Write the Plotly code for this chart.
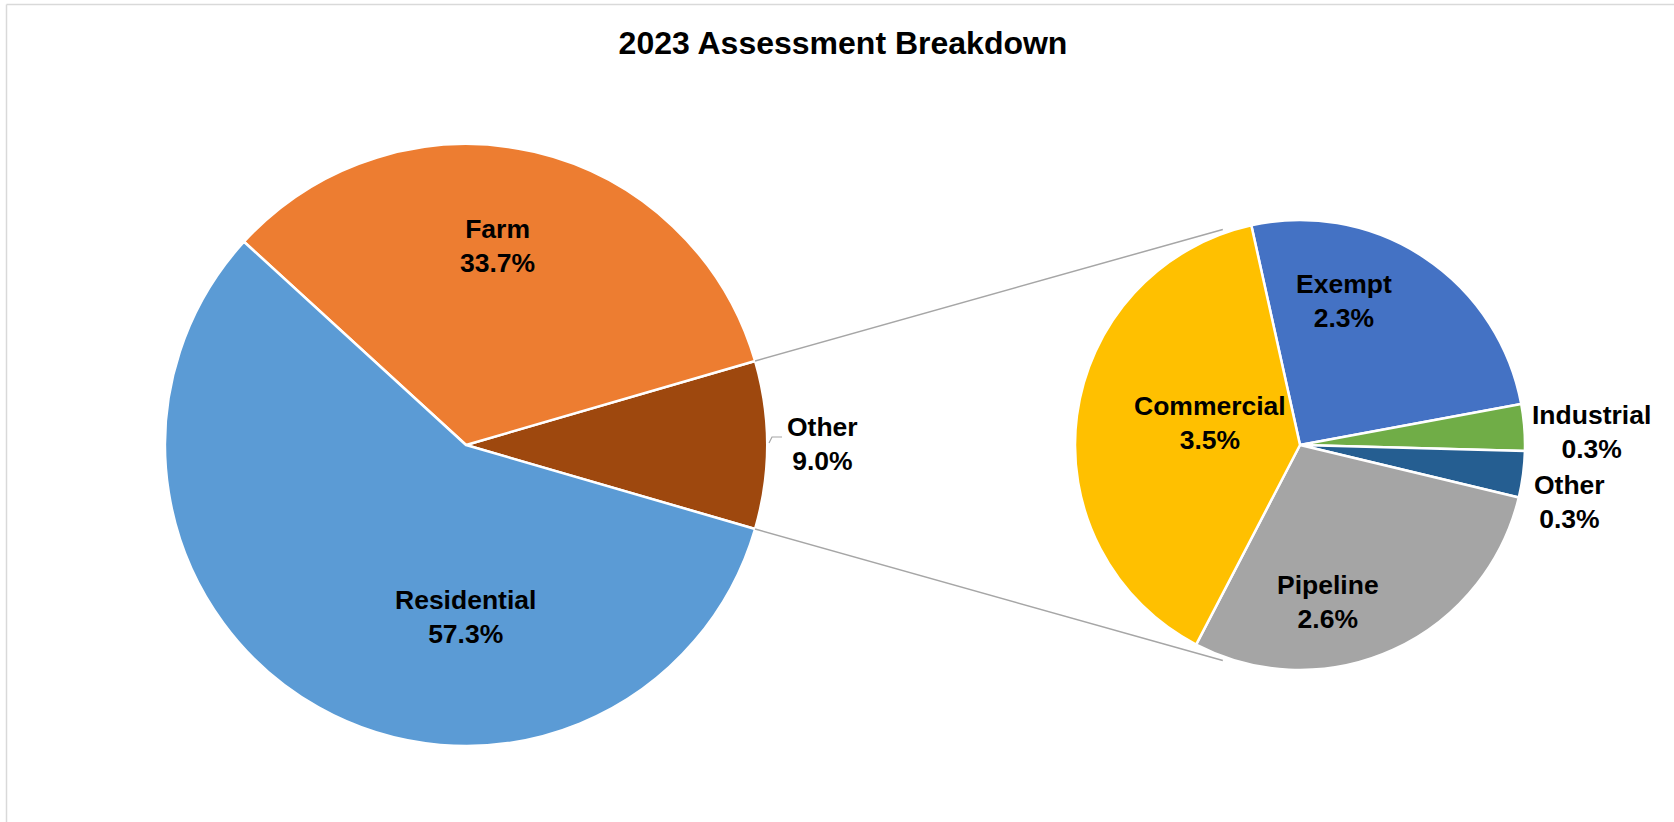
import math
import plotly.graph_objects as go

# ---------------- data ----------------
main_labels = ["Other", "Farm", "Residential"]
main_values = [9.0, 33.7, 57.3]
main_colors = ["#9E480E", "#ED7D31", "#5B9BD5"]

sub_labels = ["Exempt", "Industrial", "Other", "Pipeline", "Commercial"]
sub_values = [2.3, 0.3, 0.3, 2.6, 3.5]
sub_colors = ["#4472C4", "#70AD47", "#255E91", "#A5A5A5", "#FFC000"]

title_text = "2023 Assessment Breakdown"

# ---------------- layout geometry (pixels) ----------------
W, H = 1674, 822
C1, R1 = (466, 445), 301     # main pie centre / radius
C2, R2 = (1300, 445), 225    # secondary pie centre / radius


def px(x):
    return x / W


def py(y):
    return 1 - y / H


def dom(c, r):
    return dict(x=[px(c[0] - r), px(c[0] + r)], y=[py(c[1] + r), py(c[1] - r)])


# Other slice centred on 3 o'clock (counterclockwise: rotation = ccw end of first slice)
other_half = main_values[0] / sum(main_values) * 180.0
main_rotation = 90 - other_half
sub_rotation = -12.5

fig = go.Figure()
fig.add_trace(go.Pie(
    labels=main_labels, values=main_values, sort=False,
    direction="counterclockwise", rotation=main_rotation,
    marker=dict(colors=main_colors, line=dict(color="white", width=2.5)),
    textinfo="none", hoverinfo="label+percent", showlegend=False,
    domain=dom(C1, R1),
))
fig.add_trace(go.Pie(
    labels=sub_labels, values=sub_values, sort=False,
    direction="clockwise", rotation=sub_rotation,
    marker=dict(colors=sub_colors, line=dict(color="white", width=2.5)),
    textinfo="none", hoverinfo="label+value", showlegend=False,
    domain=dom(C2, R2),
))

total_main = sum(main_values)
main_pct = [v / total_main * 100 for v in main_values]
sub_pct = [v for v in sub_values]

label_pos_main = {"Other": (822, 444), "Farm": (497, 246), "Residential": (466, 617)}
label_pos_sub = {"Exempt": (1344, 301), "Industrial": (1591, 432), "Other": (1569, 502),
                 "Pipeline": (1328, 602), "Commercial": (1210, 423)}

font = dict(family="Liberation Sans, Arial, sans-serif", size=26.5, color="black")
annotations = []
for lab, p in zip(main_labels, main_pct):
    x, y = label_pos_main[lab]
    annotations.append(dict(x=px(x), y=py(y), xref="paper", yref="paper",
                            text=f"<b>{lab}</b><br><b>{p:.1f}%</b>", showarrow=False,
                            font=font, xanchor="center", yanchor="middle"))
for lab, p in zip(sub_labels, sub_pct):
    x, y = label_pos_sub[lab]
    annotations.append(dict(x=px(x), y=py(y), xref="paper", yref="paper",
                            text=f"<b>{lab}</b><br><b>{p:.1f}%</b>", showarrow=False,
                            font=font, xanchor="center", yanchor="middle"))

# connector lines from Other slice to secondary pie
a = math.radians(other_half)
shapes = []
end_ang = math.radians(109.7)
end_r = 229
for s in (1, -1):
    x0 = C1[0] + R1 * math.cos(a)
    y0 = C1[1] - s * R1 * math.sin(a)
    x1 = C2[0] + end_r * math.cos(end_ang)
    y1 = C2[1] - s * end_r * math.sin(end_ang)
    shapes.append(dict(type="line", xref="paper", yref="paper",
                       x0=px(x0), y0=py(y0), x1=px(x1), y1=py(y1),
                       line=dict(color="#A6A6A6", width=1.5)))

# leader line for main "Other" label
shapes.append(dict(type="path", xref="paper", yref="paper",
                   path=f"M {px(769)} {py(443)} L {px(772)} {py(437)} L {px(782)} {py(437)}",
                   line=dict(color="#A6A6A6", width=1.2)))

# chart border (top / left)
shapes.append(dict(type="line", xref="paper", yref="paper",
                   x0=px(6.5), y0=py(4.5), x1=1, y1=py(4.5),
                   line=dict(color="#D9D9D9", width=1.5)))
shapes.append(dict(type="line", xref="paper", yref="paper",
                   x0=px(6.5), y0=py(4.5), x1=px(6.5), y1=0,
                   line=dict(color="#D9D9D9", width=1.5)))

fig.update_layout(
    width=W, height=H,
    margin=dict(l=0, r=0, t=0, b=0),
    paper_bgcolor="white", plot_bgcolor="white",
    title=dict(text=f"<b>{title_text}</b>", x=px(843), xanchor="center",
               y=py(43), yanchor="middle", yref="container",
               font=dict(family="Liberation Sans, Arial, sans-serif", size=32, color="black")),
    annotations=annotations,
    shapes=shapes,
)

fig.write_html("out.html", config={"displayModeBar": False},
               post_script="document.body.style.margin='0';")
